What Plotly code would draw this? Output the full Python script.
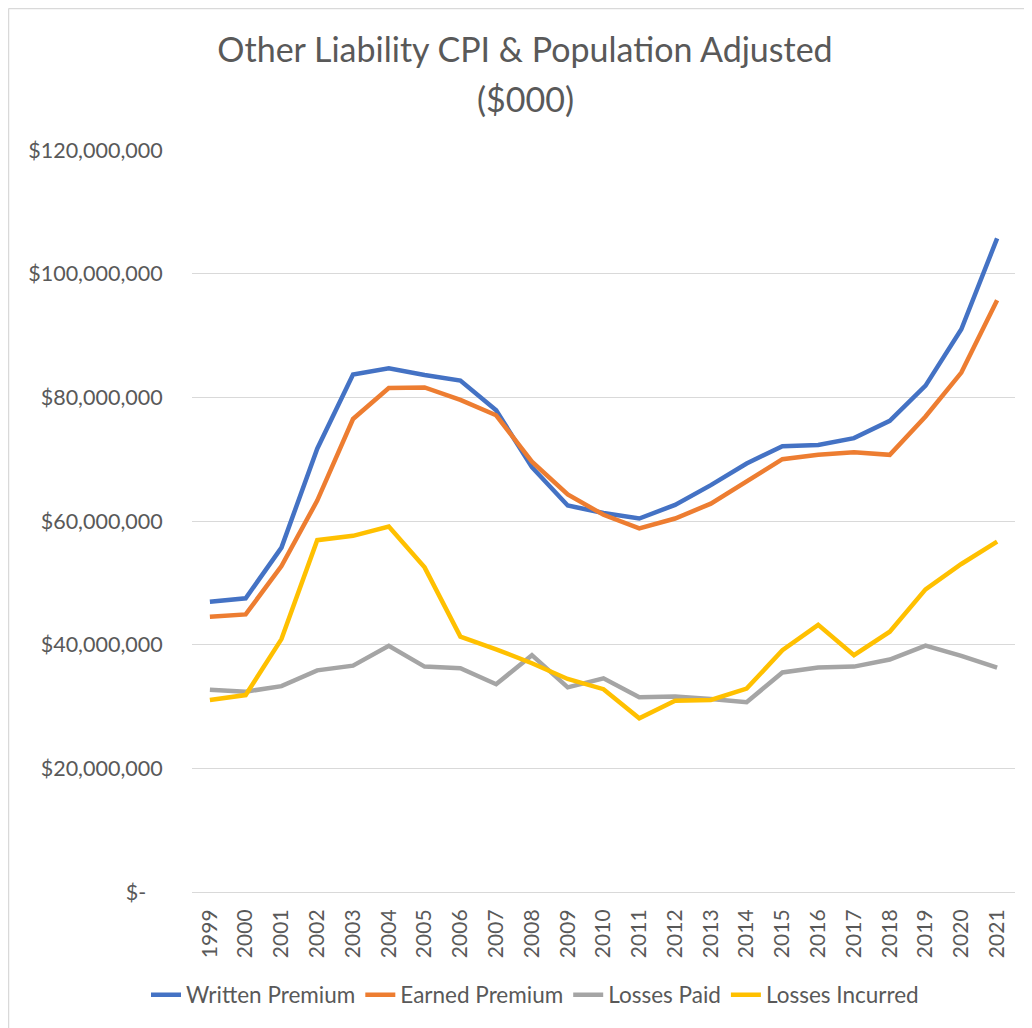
import plotly.graph_objects as go

years = [str(y) for y in range(1999, 2022)]
written_premium = [46950000, 47500000, 55700000, 71700000, 83700000, 84700000, 83600000, 82700000,
                   77900000, 68700000, 62500000, 61300000, 60400000, 62600000, 65800000, 69300000,
                   72100000, 72300000, 73400000, 76200000, 81900000, 91000000, 105700000]
earned_premium = [44500000, 44900000, 52700000, 63300000, 76500000, 81500000, 81600000, 79600000,
                  77100000, 69600000, 64300000, 61000000, 58800000, 60400000, 62800000, 66400000,
                  70000000, 70700000, 71100000, 70700000, 76900000, 84000000, 95700000]
losses_paid = [32700000, 32400000, 33300000, 35850000, 36600000, 39800000, 36450000, 36200000,
               33600000, 38300000, 33100000, 34550000, 31500000, 31600000, 31200000, 30700000,
               35500000, 36300000, 36450000, 37600000, 39850000, 38200000, 36300000]
losses_incurred = [31050000, 31850000, 40900000, 56900000, 57600000, 59100000, 52500000, 41300000,
                   39250000, 37000000, 34450000, 32800000, 28100000, 30950000, 31050000, 32900000,
                   39100000, 43200000, 38300000, 42100000, 48950000, 53050000, 56650000]

y_tickvals = [0, 20000000, 40000000, 60000000, 80000000, 100000000, 120000000]
y_ticktext = ["$-\u00a0\u00a0\u00a0", "$20,000,000", "$40,000,000", "$60,000,000",
              "$80,000,000", "$100,000,000", "$120,000,000"]

title_line1 = "Other Liability CPI & Population Adjusted"
title_line2 = "($000)"

series = [
    ("Written Premium", written_premium, "#4472C4"),
    ("Earned Premium", earned_premium, "#ED7D31"),
    ("Losses Paid", losses_paid, "#A5A5A5"),
    ("Losses Incurred", losses_incurred, "#FFC000"),
]

FONT = "Lato, Carlito, Calibri, sans-serif"
TXT = "#595959"

fig = go.Figure()
for name, vals, color in series:
    fig.add_trace(go.Scatter(x=years, y=vals, name=name, mode="lines",
                             line=dict(color=color, width=4.5)))

# page body has an 8px margin: figure origin sits at screen (8, 8)
OFF = 8
W, H = 1032 - OFF, 1028 - OFF
L = 192 - OFF
T = 150 - OFF
R = 1032 - 1015
B = (1028 - OFF) - (892 - OFF)
pw, ph = W - L - R, H - T - B

def sx(px):  # screen px -> paper x
    return (px - OFF - L) / pw

def sy(py):  # screen px -> paper y
    return (H - B - (py - OFF)) / ph

fig.update_layout(
    width=W, height=H,
    margin=dict(l=L, r=R, t=T, b=B, autoexpand=False),
    paper_bgcolor="white", plot_bgcolor="white",
    font=dict(family=FONT, color=TXT, size=21),
    title=dict(text=title_line1,
               font=dict(family=FONT, size=34, color=TXT),
               x=(525 - OFF) / W, xanchor="center", xref="container",
               y=1 - (50 - OFF) / H, yanchor="middle", yref="container"),
    annotations=[
        dict(text=title_line2, xref="paper", yref="paper", x=sx(525), y=sy(98),
             xanchor="center", yanchor="middle", showarrow=False,
             font=dict(family=FONT, size=34, color=TXT)),
    ],
    showlegend=True,
    legend=dict(orientation="h", xref="container", yref="container",
                x=(535 - OFF) / W, xanchor="center", y=1 - (995 - OFF) / H, yanchor="middle",
                font=dict(family=FONT, size=22.5, color=TXT), itemwidth=30,
                traceorder="normal"),
    xaxis=dict(type="category", range=[-0.5, len(years) - 0.5],
               showgrid=False, showline=False, zeroline=False,
               automargin=False,
               tickangle=-90, ticks="outside", ticklen=8, tickcolor="rgba(0,0,0,0)",
               tickfont=dict(family=FONT, size=21, color=TXT)),
    yaxis=dict(range=[0, 120000000], tickvals=y_tickvals, ticktext=y_ticktext,
               automargin=False,
               showgrid=True, gridcolor="#D9D9D9", gridwidth=1.2,
               zeroline=True, zerolinecolor="#D9D9D9", zerolinewidth=1.2,
               showline=False, ticks="outside", ticklen=24, tickcolor="rgba(0,0,0,0)",
               tickfont=dict(family=FONT, size=21.5, color=TXT)),
    shapes=[
        dict(type="line", xref="paper", yref="paper", x0=sx(8.5), x1=sx(1040),
             y0=sy(8.5), y1=sy(8.5), line=dict(color="#D9D9D9", width=1.5)),
        dict(type="line", xref="paper", yref="paper", x0=sx(8.5), x1=sx(8.5),
             y0=sy(8.5), y1=sy(1040), line=dict(color="#D9D9D9", width=1.5)),
    ],
)

fig.write_html("out.html")
